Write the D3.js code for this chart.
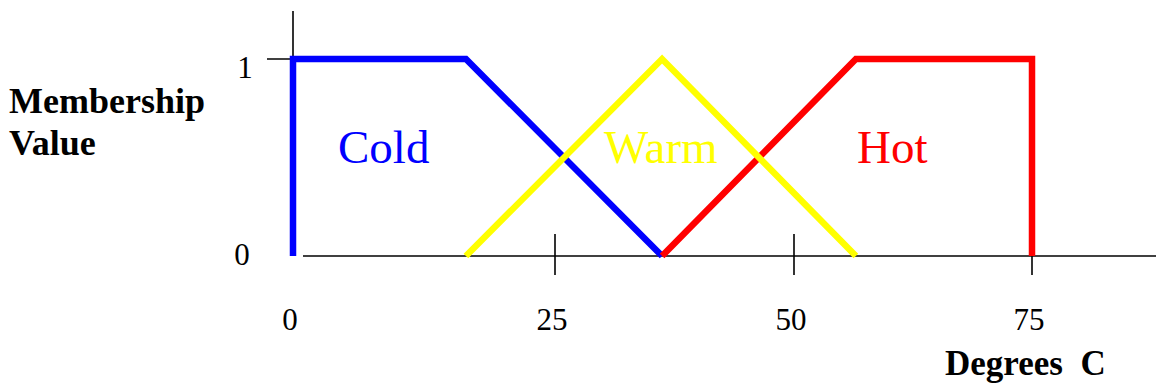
<!DOCTYPE html>
<html>
<head>
<meta charset="utf-8">
<script src="https://cdn.jsdelivr.net/npm/d3@7"></script>
<style>
  html, body { margin: 0; padding: 0; background: #fff; }
</style>
</head>
<body>
<div id="chart"></div>
<script>
// membership functions, [degrees C, membership value]
const cold = [[0, 0], [0, 1], [16.5, 1], [36.2, 0]];
const warm = [[16.5, 0], [36.2, 1], [56.5, 0]];
const hot = [[36.2, 0], [56.5, 1], [75, 1], [75, 0]];

const xTicks = [0, 25, 50, 75];
const yTicks = [0, 1];
const labels = ["Cold", "Warm", "Hot"];
const labelX = [16.5, 36.2, 56.5];   // where each set name sits (left edge in degrees)
const colors = ["#0000ff", "#ffff00", "#ff0000"];

const width = 1156, height = 387;

// the original drawing is hand-spaced, so the scale is piecewise
const x = d3.scaleLinear().domain(xTicks).range([293, 555, 794, 1032]);
const y = d3.scaleLinear().domain([0, 1]).range([256, 59]);

const svg = d3.select("#chart").append("svg")
    .attr("width", width)
    .attr("height", height)
    .attr("font-family", "'Liberation Serif', 'Times New Roman', serif");

// axes
const axis = svg.append("g").attr("stroke", "#000").attr("stroke-width", 1.6);
axis.append("line")
    .attr("x1", x(0) + 10).attr("x2", width)
    .attr("y1", y(0)).attr("y2", y(0));
axis.append("line")
    .attr("x1", x(0)).attr("x2", x(0))
    .attr("y1", 11).attr("y2", y(0));
axis.append("line")
    .attr("x1", x(0) - 26).attr("x2", x(0) + 17)
    .attr("y1", y(1)).attr("y2", y(1));
axis.selectAll("line.tick")
  .data(xTicks.slice(1))
  .join("line")
    .attr("class", "tick")
    .attr("x1", d => x(d)).attr("x2", d => x(d))
    .attr("y1", y(0) - 22).attr("y2", y(0) + 19);

// tick labels
svg.append("g")
    .attr("font-size", 31)
    .attr("text-anchor", "middle")
  .selectAll("text")
  .data(xTicks)
  .join("text")
    .attr("x", d => x(d) - 3)
    .attr("y", 330)
    .text(d => d);

svg.append("g")
    .attr("font-size", 31)
    .attr("text-anchor", "middle")
  .selectAll("text")
  .data(yTicks)
  .join("text")
    .attr("x", d => d ? 245 : 242)
    .attr("y", d => y(d) + (d ? 19 : 9))
    .text(d => d);

// axis titles
const titles = svg.append("g").attr("font-size", 36).attr("font-weight", "bold");
titles.append("text").attr("x", 9).attr("y", 113).text("Membership");
titles.append("text").attr("x", 9).attr("y", 155).text("Value");
titles.append("text").attr("x", 945).attr("y", 375).attr("font-size", 35).text("Degrees  C").attr("xml:space", "preserve");

// curves: blue, red, then yellow on top
const line = d3.line().x(d => x(d[0])).y(d => y(d[1]));
const sets = [cold, warm, hot];
[0, 2, 1].forEach(i => {
  svg.append("path")
      .attr("d", line(sets[i]))
      .attr("fill", "none")
      .attr("stroke", colors[i])
      .attr("stroke-width", 6.5)
      .attr("stroke-linejoin", "miter");
});

// set names
svg.append("g")
    .attr("font-size", 47)
  .selectAll("text")
  .data(labels)
  .join("text")
    .attr("x", (d, i) => [338, 604, 857][i])
    .attr("y", 163)
    .attr("fill", (d, i) => colors[i])
    .text(d => d);
</script>
</body>
</html>
